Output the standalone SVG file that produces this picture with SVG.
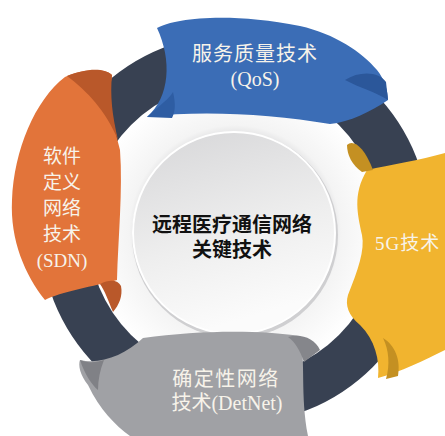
<svg xmlns="http://www.w3.org/2000/svg" width="445" height="436" viewBox="0 0 445 436">
<defs>
<radialGradient id="ann" cx="0.5" cy="0.5" r="0.5">
<stop offset="0.6" stop-color="#d4d4d6"/>
<stop offset="0.72" stop-color="#f4f4f4"/>
<stop offset="1" stop-color="#ffffff"/>
</radialGradient>
<linearGradient id="disc" x1="0" y1="0" x2="0.3" y2="1">
<stop offset="0" stop-color="#d6d6d8"/>
<stop offset="0.6" stop-color="#eeeeee"/>
<stop offset="1" stop-color="#fbfbfb"/>
</linearGradient>
<style>
.cjk{font-family:"Liberation Serif","Noto Sans CJK SC",serif;fill:#f7f3ea;font-size:19px;text-anchor:middle}
.ttl{font-family:"Liberation Serif","Noto Sans CJK SC",serif;fill:#111;font-size:20px;font-weight:700;text-anchor:middle}
</style>
</defs>
<rect width="445" height="436" fill="#ffffff"/>
<g id="ring">
<circle cx="235" cy="229" r="171" fill="none" stroke="#384152" stroke-width="48"/>
<circle cx="235" cy="231" r="147" fill="url(#ann)"/>
</g>
<g id="center">
<circle cx="235" cy="235" r="103" fill="#cfcfd1"/>
<circle cx="234" cy="233" r="101" fill="url(#disc)" stroke="#ffffff" stroke-width="2"/>
<text class="ttl" x="232" y="232">远程医疗通信网络</text>
<text class="ttl" x="232" y="257">关键技术</text>
</g>
<g id="qos">
<path d="M157,28 C175,18 230,12 300,26 C335,34 362,52 377,70 C385,80 388,92 388,100 C370,112 350,122 330,124 C270,114 200,110 147,117 C170,97 172,60 157,28 Z" fill="#3b6db6"/>
<path d="M345,80 C360,70 380,72 386,82 L388,100 C376,92 360,88 345,80 Z" fill="#2b579a"/>
<path d="M147,117 C160,105 170,98 173,92 C176,105 175,112 172,118 Z" fill="#2e5da3"/>
<text class="cjk" x="255" y="61" style="font-size:20px;letter-spacing:1px">服务质量技术</text>
<text class="cjk" x="255" y="86" style="font-size:20px">(QoS)</text>
</g>
<g id="sdn">
<path d="M65,77 C85,68 105,68 112,75 C108,95 112,120 120,150 C123,190 118,240 117,280 C95,286 60,292 45,300 C25,275 10,240 12,200 C14,150 35,100 65,77 Z" fill="#e2743a"/>
<path d="M67,76 C85,69 103,67 112,75 C110,95 112,115 118,140 C105,110 88,92 67,76 Z" fill="#b9582a"/>
<path d="M100,284 C110,279 118,280 121,286 C123,296 119,305 113,312 C108,300 105,291 100,284 Z" fill="#b9582a"/>
<text class="cjk" x="62" y="163">软件</text>
<text class="cjk" x="62" y="189">定义</text>
<text class="cjk" x="62" y="215">网络</text>
<text class="cjk" x="62" y="241">技术</text>
<text class="cjk" x="62" y="267">(SDN)</text>
</g>
<g id="g5">
<path d="M367,170 C390,165 420,160 445,153 L445,350 C425,360 400,372 378,378 C380,360 375,340 360,325 C348,315 345,305 348,295 C358,270 365,250 362,235 C358,215 352,195 367,170 Z" fill="#f1b42f"/>
<path d="M347,145 C353,139 364,146 373,170 L362,172 C352,165 347,155 347,145 Z" fill="#c49022"/>
<path d="M383,338 C395,345 401,360 398,376 L386,379 C390,365 389,350 383,338 Z" fill="#c49022"/>
<text class="cjk" x="375" y="250" style="font-size:19px;text-anchor:start;letter-spacing:1px">5G技术</text>
</g>
<g id="detnet">
<path d="M143,338 C200,330 260,330 300,336 C306,360 300,395 308,436 L130,436 C115,425 100,410 88,385 C80,375 78,365 80,360 C100,365 125,355 143,338 Z" fill="#a0a1a5"/>
<path d="M80,360 C90,364 98,362 104,360 C100,370 98,380 98,390 C92,385 85,375 80,360 Z" fill="#808186"/>
<path d="M288,337 C300,333 315,338 320,350 L304,362 C300,350 295,342 288,337 Z" fill="#85868b"/>
<text class="cjk" x="226" y="386" style="font-size:20px;letter-spacing:1.5px">确定性网络</text>
<text class="cjk" x="227" y="410" style="font-size:20px">技术(DetNet)</text>
</g>
</svg>
